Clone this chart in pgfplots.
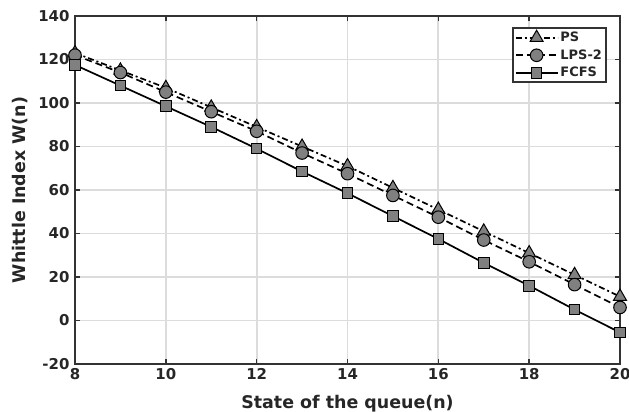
\documentclass[border=0pt]{standalone}
\usepackage{fontspec}
\setmainfont{DejaVu Sans}
\usepackage{pgfplots}
\pgfplotsset{compat=1.18}
\definecolor{ax}{HTML}{333333}
\definecolor{txt}{HTML}{262626}
\definecolor{grd}{HTML}{DCDCDC}
\definecolor{mk}{HTML}{808080}
\begin{document}
\begin{tikzpicture}
\useasboundingbox (-75bp,-48bp) rectangle (554bp,364bp);
\begin{axis}[
 at={(0,0)}, anchor=south west,
 scale only axis, width=545bp, height=348bp,
 xmin=8,xmax=20,ymin=-20,ymax=140,
 xtick={8,10,...,20}, ytick={-20,0,...,140},
 grid=major, grid style={grd, line width=1.8bp},
 axis line style={ax, line width=2.2bp},
 tick style={ax, line width=1.6bp}, tick align=inside, major tick length=5bp,
 ticklabel style={font=\fontsize{15}{17}\selectfont\bfseries, text=txt},
 xticklabel style={yshift=-1bp},
 yticklabel style={xshift=-2bp},
 /pgf/number format/assume math mode=true,
 xlabel={State of the queue(n)}, ylabel={Whittle Index W(n)},
 label style={font=\fontsize{17.5}{19}\selectfont\bfseries, text=txt},
 xlabel style={yshift=-9bp},
 ylabel style={yshift=4bp},
 legend style={at={(0.976,0.968)}, anchor=north east, draw=ax, line width=2bp,
   font=\fontsize{13}{15}\selectfont\bfseries, text=txt, row sep=2.5bp, inner sep=2bp},
 legend cell align=left,
 legend image code/.code={\draw[mark repeat=2,mark phase=2] plot coordinates {(0bp,0bp) (21bp,0bp) (42bp,0bp)};},
 every axis plot/.append style={black, line width=1.7bp},
]
\addplot[dash pattern=on 6bp off 3bp on 2bp off 3bp, mark=triangle*, mark size=7.5bp,
  mark options={solid, fill=mk, draw=black, line width=1bp}] coordinates {
 (8,123) (9,115) (10,107) (11,98) (12,89) (13,80) (14,71) (15,61) (16,51) (17,41) (18,31) (19,21) (20,11)};
\addlegendentry{PS}
\addplot[dash pattern=on 7bp off 4bp, mark=*, mark size=6.3bp,
  mark options={solid, fill=mk, draw=black, line width=1bp}] coordinates {
 (8,122) (9,114) (10,105) (11,96) (12,87) (13,77) (14,67.5) (15,57.5) (16,47.5) (17,37) (18,27) (19,16.5) (20,6)};
\addlegendentry{LPS-2}
\addplot[solid, mark=square*, mark size=5.3bp,
  mark options={solid, fill=mk, draw=black, line width=1bp}] coordinates {
 (8,117.5) (9,108) (10,98.5) (11,89) (12,79) (13,68.5) (14,58.5) (15,48) (16,37.5) (17,26.5) (18,16) (19,5) (20,-5.5)};
\addlegendentry{FCFS}
\end{axis}
\end{tikzpicture}
\end{document}
